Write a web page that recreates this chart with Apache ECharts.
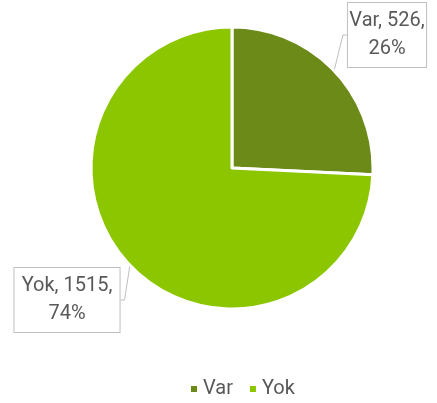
<!DOCTYPE html>
<html>
<head>
<meta charset="utf-8">
<script src="https://cdn.jsdelivr.net/npm/echarts@6/dist/echarts.min.js"></script>
<style>
	html, body { margin: 0; padding: 0; background: #fff; }
	#chart { width: 437px; height: 403px; }
</style>
</head>
<body>
<div id="chart"></div>
<script>
const categories = ['Var', 'Yok']
const values = [526, 1515]
const colors = ['#6B8A18', '#8CC600']
// label box centers
const labelSpots = [
	{ x: 387, y: 35 },
	{ x: 67, y: 300 },
]

const fontFamily = "'Liberation Sans Narrow', 'Arial Narrow', Roboto, sans-serif"

const chart = echarts.init(document.getElementById('chart'))

chart.setOption({
	animation: false,
	legend: {
		top: 374,
		left: 184,
		itemWidth: 8,
		itemHeight: 8,
		itemGap: 15,
		icon: 'rect',
		textStyle: {
			color: '#595959',
			fontSize: 20,
			fontFamily,
		},
		data: categories,
	},
	series: [
		{
			type: 'pie',
			center: [232, 168],
			radius: 141,
			startAngle: 90,
			clockwise: true,
			percentPrecision: 0,
			itemStyle: {
				borderColor: '#fff',
				borderWidth: 3,
			},
			label: {
				show: true,
				position: 'outside',
				formatter: '{b}, {c},\n{d}%',
				color: '#595959',
				fontSize: 20,
				lineHeight: 28,
				fontFamily,
				align: 'center',
				overflow: 'none',
				backgroundColor: '#fff',
				borderColor: '#BFBFBF',
				borderWidth: 1,
				padding: [4, 7, 4, 7],
			},
			labelLine: {
				show: true,
				length: 8,
				length2: 4,
				lineStyle: { color: '#BFBFBF', width: 1 },
			},
			labelLayout: (params) => {
				const spot = labelSpots[params.dataIndex]
				return { x: spot.x, y: spot.y, align: 'center', verticalAlign: 'middle' }
			},
			data: categories.map((name, i) => ({
				name,
				value: values[i],
				itemStyle: { color: colors[i] },
			})),
		},
	],
})
</script>
</body>
</html>
